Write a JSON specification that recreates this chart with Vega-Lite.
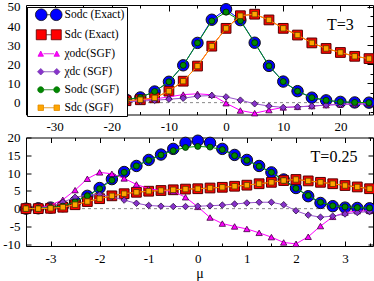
{
  "$schema": "https://vega.github.io/schema/vega-lite/v6.json",
  "padding": {"left": 2, "top": 0, "right": 1, "bottom": 0},
  "autosize": {"type": "pad"},
  "bounds": "flush",
  "spacing": 22.5,
  "resolve": {"scale": {"fill": "independent", "shape": "independent", "stroke": "independent"}, "legend": {"fill": "independent", "shape": "independent", "stroke": "independent"}},
  "config": {
    "font": "Liberation Serif",
    "view": {"stroke": "black", "strokeWidth": 1},
    "axis": {"grid": false, "domain": false, "labelFont": "Liberation Serif", "labelFontSize": 13, "labelColor": "black", "tickColor": "black", "tickWidth": 1, "labelFlush": false, "labelOverlap": false, "titleFont": "Liberation Serif", "titleFontSize": 14, "titleFontWeight": "normal", "titleColor": "black", "titlePadding": 1}
  },
  "datasets": {
    "top": [
      {"s":"Sodc (Exact)","x":-20,"y":0.8},{"s":"Sodc (Exact)","x":-17.5,"y":1.6},{"s":"Sodc (Exact)","x":-15,"y":2.7},{"s":"Sodc (Exact)","x":-12.5,"y":5.8},{"s":"Sodc (Exact)","x":-10,"y":10.9},{"s":"Sodc (Exact)","x":-7.5,"y":19.5},{"s":"Sodc (Exact)","x":-5,"y":31.2},{"s":"Sodc (Exact)","x":-2.5,"y":43.3},{"s":"Sodc (Exact)","x":0,"y":48.8},{"s":"Sodc (Exact)","x":2.5,"y":43.1},{"s":"Sodc (Exact)","x":5,"y":31.3},{"s":"Sodc (Exact)","x":7.5,"y":19.2},{"s":"Sodc (Exact)","x":10,"y":11.0},{"s":"Sodc (Exact)","x":12.5,"y":6.0},{"s":"Sodc (Exact)","x":15,"y":2.6},{"s":"Sodc (Exact)","x":17.5,"y":1.2},{"s":"Sodc (Exact)","x":20,"y":0.4},{"s":"Sodc (Exact)","x":22.5,"y":0.1},{"s":"Sodc (Exact)","x":25,"y":0.0},
      {"s":"Sdc (Exact)","x":-20,"y":0.6},{"s":"Sdc (Exact)","x":-17.5,"y":1.0},{"s":"Sdc (Exact)","x":-15,"y":1.5},{"s":"Sdc (Exact)","x":-12.5,"y":2.5},{"s":"Sdc (Exact)","x":-10,"y":6.0},{"s":"Sdc (Exact)","x":-7.5,"y":11.2},{"s":"Sdc (Exact)","x":-5,"y":19.1},{"s":"Sdc (Exact)","x":-2.5,"y":29.5},{"s":"Sdc (Exact)","x":0,"y":38.8},{"s":"Sdc (Exact)","x":2.5,"y":45.4},{"s":"Sdc (Exact)","x":5,"y":46.2},{"s":"Sdc (Exact)","x":7.5,"y":43.2},{"s":"Sdc (Exact)","x":10,"y":38.8},{"s":"Sdc (Exact)","x":12.5,"y":35.3},{"s":"Sdc (Exact)","x":15,"y":31.2},{"s":"Sdc (Exact)","x":17.5,"y":28.3},{"s":"Sdc (Exact)","x":20,"y":26.2},{"s":"Sdc (Exact)","x":22.5,"y":24.2},{"s":"Sdc (Exact)","x":25,"y":23.0},
      {"s":"χodc(SGF)","x":-20,"y":0.5},{"s":"χodc(SGF)","x":-17.5,"y":0.8},{"s":"χodc(SGF)","x":-15,"y":1.3},{"s":"χodc(SGF)","x":-12.5,"y":1.9},{"s":"χodc(SGF)","x":-10,"y":3.0},{"s":"χodc(SGF)","x":-7.5,"y":4.2},{"s":"χodc(SGF)","x":-5,"y":4.6},{"s":"χodc(SGF)","x":-2.5,"y":4.1},{"s":"χodc(SGF)","x":0,"y":-0.3},{"s":"χodc(SGF)","x":2.5,"y":-4.1},{"s":"χodc(SGF)","x":5,"y":-5.5},{"s":"χodc(SGF)","x":7.5,"y":-3.9},{"s":"χodc(SGF)","x":10,"y":-2.5},{"s":"χodc(SGF)","x":12.5,"y":-2.2},{"s":"χodc(SGF)","x":15,"y":-1.8},{"s":"χodc(SGF)","x":17.5,"y":-1.3},{"s":"χodc(SGF)","x":20,"y":-0.9},{"s":"χodc(SGF)","x":22.5,"y":-0.7},{"s":"χodc(SGF)","x":25,"y":-0.6},
      {"s":"χdc (SGF)","x":-20,"y":0.3},{"s":"χdc (SGF)","x":-17.5,"y":0.5},{"s":"χdc (SGF)","x":-15,"y":0.8},{"s":"χdc (SGF)","x":-12.5,"y":1.2},{"s":"χdc (SGF)","x":-10,"y":1.8},{"s":"χdc (SGF)","x":-7.5,"y":2.3},{"s":"χdc (SGF)","x":-5,"y":3.4},{"s":"χdc (SGF)","x":-2.5,"y":3.7},{"s":"χdc (SGF)","x":0,"y":3.0},{"s":"χdc (SGF)","x":2.5,"y":1.3},{"s":"χdc (SGF)","x":5,"y":-0.6},{"s":"χdc (SGF)","x":7.5,"y":-1.8},{"s":"χdc (SGF)","x":10,"y":-2.5},{"s":"χdc (SGF)","x":12.5,"y":-2.2},{"s":"χdc (SGF)","x":15,"y":-1.8},{"s":"χdc (SGF)","x":17.5,"y":-1.3},{"s":"χdc (SGF)","x":20,"y":-0.9},{"s":"χdc (SGF)","x":22.5,"y":-0.7},{"s":"χdc (SGF)","x":25,"y":-0.6},
      {"s":"Sodc (SGF)","x":-20,"y":0.8},{"s":"Sodc (SGF)","x":-17.5,"y":1.6},{"s":"Sodc (SGF)","x":-15,"y":2.7},{"s":"Sodc (SGF)","x":-12.5,"y":5.8},{"s":"Sodc (SGF)","x":-10,"y":10.9},{"s":"Sodc (SGF)","x":-7.5,"y":19.5},{"s":"Sodc (SGF)","x":-5,"y":31.2},{"s":"Sodc (SGF)","x":-2.5,"y":42.7},{"s":"Sodc (SGF)","x":0,"y":47.3},{"s":"Sodc (SGF)","x":2.5,"y":42.8},{"s":"Sodc (SGF)","x":5,"y":31.3},{"s":"Sodc (SGF)","x":7.5,"y":19.2},{"s":"Sodc (SGF)","x":10,"y":11.0},{"s":"Sodc (SGF)","x":12.5,"y":6.0},{"s":"Sodc (SGF)","x":15,"y":2.6},{"s":"Sodc (SGF)","x":17.5,"y":1.2},{"s":"Sodc (SGF)","x":20,"y":0.4},{"s":"Sodc (SGF)","x":22.5,"y":0.1},{"s":"Sodc (SGF)","x":25,"y":0.0},
      {"s":"Sdc (SGF)","x":-20,"y":0.6},{"s":"Sdc (SGF)","x":-17.5,"y":1.0},{"s":"Sdc (SGF)","x":-15,"y":1.5},{"s":"Sdc (SGF)","x":-12.5,"y":2.5},{"s":"Sdc (SGF)","x":-10,"y":6.0},{"s":"Sdc (SGF)","x":-7.5,"y":11.2},{"s":"Sdc (SGF)","x":-5,"y":19.1},{"s":"Sdc (SGF)","x":-2.5,"y":29.5},{"s":"Sdc (SGF)","x":0,"y":38.8},{"s":"Sdc (SGF)","x":2.5,"y":45.4},{"s":"Sdc (SGF)","x":5,"y":46.2},{"s":"Sdc (SGF)","x":7.5,"y":43.2},{"s":"Sdc (SGF)","x":10,"y":38.8},{"s":"Sdc (SGF)","x":12.5,"y":35.3},{"s":"Sdc (SGF)","x":15,"y":31.2},{"s":"Sdc (SGF)","x":17.5,"y":28.3},{"s":"Sdc (SGF)","x":20,"y":26.2},{"s":"Sdc (SGF)","x":22.5,"y":24.2},{"s":"Sdc (SGF)","x":25,"y":23.0}
    ],
    "bot": [
      {"s":"A","x":-3.5,"y":0},{"s":"A","x":-3.25,"y":0.1},{"s":"A","x":-3,"y":0.3},{"s":"A","x":-2.75,"y":0.7},{"s":"A","x":-2.5,"y":1.9},{"s":"A","x":-2.25,"y":3.6},{"s":"A","x":-2,"y":5.8},{"s":"A","x":-1.75,"y":8.3},{"s":"A","x":-1.5,"y":10.3},{"s":"A","x":-1.25,"y":12.0},{"s":"A","x":-1,"y":13.7},{"s":"A","x":-0.75,"y":15.2},{"s":"A","x":-0.5,"y":16.8},{"s":"A","x":-0.25,"y":18.5},{"s":"A","x":0,"y":19.1},{"s":"A","x":0.25,"y":18.5},{"s":"A","x":0.5,"y":16.8},{"s":"A","x":0.75,"y":15.1},{"s":"A","x":1,"y":13.7},{"s":"A","x":1.25,"y":12.0},{"s":"A","x":1.5,"y":10.2},{"s":"A","x":1.75,"y":8.2},{"s":"A","x":2,"y":5.8},{"s":"A","x":2.25,"y":3.5},{"s":"A","x":2.5,"y":1.6},{"s":"A","x":2.75,"y":0.7},{"s":"A","x":3,"y":0.3},{"s":"A","x":3.25,"y":0.2},{"s":"A","x":3.5,"y":0.1},
      {"s":"B","x":-3.5,"y":0},{"s":"B","x":-3.25,"y":0},{"s":"B","x":-3,"y":0.1},{"s":"B","x":-2.75,"y":0.4},{"s":"B","x":-2.5,"y":1.1},{"s":"B","x":-2.25,"y":2.0},{"s":"B","x":-2,"y":2.8},{"s":"B","x":-1.75,"y":3.6},{"s":"B","x":-1.5,"y":4.2},{"s":"B","x":-1.25,"y":4.6},{"s":"B","x":-1,"y":4.9},{"s":"B","x":-0.75,"y":5.1},{"s":"B","x":-0.5,"y":5.3},{"s":"B","x":-0.25,"y":5.5},{"s":"B","x":0,"y":5.6},{"s":"B","x":0.25,"y":5.8},{"s":"B","x":0.5,"y":6.0},{"s":"B","x":0.75,"y":6.3},{"s":"B","x":1,"y":6.6},{"s":"B","x":1.25,"y":7.0},{"s":"B","x":1.5,"y":7.4},{"s":"B","x":1.75,"y":7.9},{"s":"B","x":2,"y":8.2},{"s":"B","x":2.25,"y":7.8},{"s":"B","x":2.5,"y":7.4},{"s":"B","x":2.75,"y":7.0},{"s":"B","x":3,"y":6.5},{"s":"B","x":3.25,"y":6.1},{"s":"B","x":3.5,"y":5.6},
      {"s":"C","x":-3.5,"y":0},{"s":"C","x":-3.25,"y":0.1},{"s":"C","x":-3,"y":1.0},{"s":"C","x":-2.75,"y":2.5},{"s":"C","x":-2.5,"y":5.2},{"s":"C","x":-2.25,"y":8.4},{"s":"C","x":-2,"y":10.2},{"s":"C","x":-1.75,"y":9.8},{"s":"C","x":-1.5,"y":8.5},{"s":"C","x":-1.25,"y":6.8},{"s":"C","x":-1,"y":5.6},{"s":"C","x":-0.75,"y":5.1},{"s":"C","x":-0.5,"y":4.9},{"s":"C","x":-0.25,"y":3.2},{"s":"C","x":0,"y":0.5},{"s":"C","x":0.25,"y":-2.5},{"s":"C","x":0.5,"y":-4.2},{"s":"C","x":0.75,"y":-5.0},{"s":"C","x":1,"y":-5.7},{"s":"C","x":1.25,"y":-6.8},{"s":"C","x":1.5,"y":-8.0},{"s":"C","x":1.75,"y":-9.5},{"s":"C","x":2,"y":-9.9},{"s":"C","x":2.25,"y":-7.9},{"s":"C","x":2.5,"y":-4.9},{"s":"C","x":2.75,"y":-2.3},{"s":"C","x":3,"y":-1.1},{"s":"C","x":3.25,"y":-0.7},{"s":"C","x":3.5,"y":-0.6},
      {"s":"D","x":-3.5,"y":0},{"s":"D","x":-3.25,"y":0.1},{"s":"D","x":-3,"y":0.6},{"s":"D","x":-2.75,"y":1.8},{"s":"D","x":-2.5,"y":3.2},{"s":"D","x":-2.25,"y":3.8},{"s":"D","x":-2,"y":4.0},{"s":"D","x":-1.75,"y":3.3},{"s":"D","x":-1.5,"y":2.4},{"s":"D","x":-1.25,"y":1.5},{"s":"D","x":-1,"y":0.9},{"s":"D","x":-0.75,"y":0.7},{"s":"D","x":-0.5,"y":0.6},{"s":"D","x":-0.25,"y":0.6},{"s":"D","x":0,"y":0.7},{"s":"D","x":0.25,"y":0.8},{"s":"D","x":0.5,"y":1.0},{"s":"D","x":0.75,"y":1.3},{"s":"D","x":1,"y":1.6},{"s":"D","x":1.25,"y":1.8},{"s":"D","x":1.5,"y":1.8},{"s":"D","x":1.75,"y":1.1},{"s":"D","x":2,"y":-0.6},{"s":"D","x":2.25,"y":-1.8},{"s":"D","x":2.5,"y":-2.4},{"s":"D","x":2.75,"y":-2.1},{"s":"D","x":3,"y":-1.5},{"s":"D","x":3.25,"y":-1.1},{"s":"D","x":3.5,"y":-0.8},
      {"s":"E","x":-3.5,"y":0},{"s":"E","x":-3.25,"y":0.1},{"s":"E","x":-3,"y":0.3},{"s":"E","x":-2.75,"y":0.7},{"s":"E","x":-2.5,"y":1.9},{"s":"E","x":-2.25,"y":3.6},{"s":"E","x":-2,"y":5.6},{"s":"E","x":-1.75,"y":8.0},{"s":"E","x":-1.5,"y":10.2},{"s":"E","x":-1.25,"y":12.0},{"s":"E","x":-1,"y":13.6},{"s":"E","x":-0.75,"y":15.1},{"s":"E","x":-0.5,"y":16.3},{"s":"E","x":-0.25,"y":17.2},{"s":"E","x":0,"y":17.5},{"s":"E","x":0.25,"y":17.3},{"s":"E","x":0.5,"y":16.6},{"s":"E","x":0.75,"y":14.9},{"s":"E","x":1,"y":13.6},{"s":"E","x":1.25,"y":11.9},{"s":"E","x":1.5,"y":10.2},{"s":"E","x":1.75,"y":7.9},{"s":"E","x":2,"y":5.7},{"s":"E","x":2.25,"y":3.7},{"s":"E","x":2.5,"y":1.8},{"s":"E","x":2.75,"y":0.8},{"s":"E","x":3,"y":0.5},{"s":"E","x":3.25,"y":0.3},{"s":"E","x":3.5,"y":0.2},
      {"s":"F","x":-3.5,"y":0},{"s":"F","x":-3.25,"y":0},{"s":"F","x":-3,"y":0.1},{"s":"F","x":-2.75,"y":0.4},{"s":"F","x":-2.5,"y":1.1},{"s":"F","x":-2.25,"y":2.0},{"s":"F","x":-2,"y":2.8},{"s":"F","x":-1.75,"y":3.6},{"s":"F","x":-1.5,"y":4.2},{"s":"F","x":-1.25,"y":4.6},{"s":"F","x":-1,"y":4.9},{"s":"F","x":-0.75,"y":5.1},{"s":"F","x":-0.5,"y":5.3},{"s":"F","x":-0.25,"y":5.5},{"s":"F","x":0,"y":5.6},{"s":"F","x":0.25,"y":5.8},{"s":"F","x":0.5,"y":6.0},{"s":"F","x":0.75,"y":6.3},{"s":"F","x":1,"y":6.6},{"s":"F","x":1.25,"y":7.0},{"s":"F","x":1.5,"y":7.4},{"s":"F","x":1.75,"y":7.9},{"s":"F","x":2,"y":8.2},{"s":"F","x":2.25,"y":7.8},{"s":"F","x":2.5,"y":7.4},{"s":"F","x":2.75,"y":7.0},{"s":"F","x":3,"y":6.5},{"s":"F","x":3.25,"y":6.1},{"s":"F","x":3.5,"y":5.6}
    ]
  },
  "vconcat": [
    {
      "width": 347,
      "height": 109.5,
      "data": {"name": "top"},
      "resolve": {"axis": {"x": "independent", "y": "independent"}},
      "layer": [
        {
          "data": {"values": [{}]},
          "mark": {"type": "rule", "color": "#555555", "strokeDash": [3, 3], "strokeWidth": 0.7},
          "encoding": {
            "y": {"datum": 0, "type": "quantitative", "scale": {"domain": [-6.2, 51], "nice": false, "zero": false}, "axis": {"orient": "left", "values": [0, 10, 20, 30, 40, 50], "ticks": false, "labelPadding": 6, "title": null, "labelExpr": "replace(datum.label, '\u2212', '-')"}}
          }
        },
        {
          "transform": [{"filter": {"field": "s", "equal": "Sodc (Exact)"}}],
          "mark": {"type": "line", "color": "#0000ff", "strokeWidth": 1},
          "encoding": {
            "x": {"field": "x", "type": "quantitative", "scale": {"domain": [-35, 25.7], "nice": false, "zero": false}, "axis": {"orient": "bottom", "values": [-30, -20, -10, 0, 10, 20], "ticks": false, "labelPadding": 6, "title": null, "labelExpr": "replace(datum.label, '\u2212', '-')"}},
            "y": {"field": "y", "type": "quantitative", "scale": {"domain": [-6.2, 51], "nice": false, "zero": false}, "axis": {"orient": "left", "values": [0, 10, 20, 30, 40, 50], "labels": false, "tickSize": -6, "title": null}}
          }
        },
        {
          "transform": [{"filter": {"field": "s", "equal": "Sodc (Exact)"}}],
          "mark": {"type": "point", "shape": "circle", "size": 130, "filled": true, "opacity": 1, "fill": "#0000ff", "stroke": "#111111", "strokeWidth": 1},
          "encoding": {
            "x": {"field": "x", "type": "quantitative", "scale": {"domain": [-35, 25.7], "nice": false, "zero": false}, "axis": {"orient": "bottom", "values": [-30, -20, -10, 0, 10, 20], "labels": false, "tickSize": -6, "title": null}},
            "y": {"field": "y", "type": "quantitative", "scale": {"domain": [-6.2, 51], "nice": false, "zero": false}, "axis": {"orient": "left", "values": [-5, 5, 15, 25, 35, 45], "labels": false, "tickSize": -3, "title": null}}
          }
        },
        {
          "transform": [{"filter": {"field": "s", "equal": "Sdc (Exact)"}}],
          "mark": {"type": "line", "color": "#ff0000", "strokeWidth": 1},
          "encoding": {
            "x": {"field": "x", "type": "quantitative", "scale": {"domain": [-35, 25.7], "nice": false, "zero": false}, "axis": {"orient": "bottom", "values": [-25, -15, -5, 5, 15, 25], "labels": false, "tickSize": -3, "title": null}},
            "y": {"field": "y", "type": "quantitative", "scale": {"domain": [-6.2, 51], "nice": false, "zero": false}, "axis": {"orient": "right", "values": [0, 10, 20, 30, 40, 50], "labels": false, "tickSize": -6, "title": null}}
          }
        },
        {
          "transform": [{"filter": {"field": "s", "equal": "Sdc (Exact)"}}],
          "mark": {"type": "point", "shape": "square", "size": 95, "filled": true, "opacity": 1, "fill": "#ff0000", "stroke": "#550000", "strokeWidth": 1},
          "encoding": {
            "x": {"field": "x", "type": "quantitative", "scale": {"domain": [-35, 25.7], "nice": false, "zero": false}, "axis": {"orient": "top", "values": [-30, -20, -10, 0, 10, 20], "labels": false, "tickSize": -6, "title": null}},
            "y": {"field": "y", "type": "quantitative", "scale": {"domain": [-6.2, 51], "nice": false, "zero": false}, "axis": {"orient": "right", "values": [-5, 5, 15, 25, 35, 45], "labels": false, "tickSize": -3, "title": null}}
          }
        },
        {
          "transform": [{"filter": {"field": "s", "equal": "χodc(SGF)"}}],
          "mark": {"type": "line", "color": "#ff00ff", "strokeWidth": 1},
          "encoding": {
            "x": {"field": "x", "type": "quantitative", "scale": {"domain": [-35, 25.7], "nice": false, "zero": false}, "axis": {"orient": "top", "values": [-25, -15, -5, 5, 15, 25], "labels": false, "tickSize": -3, "title": null}},
            "y": {"field": "y", "type": "quantitative", "scale": {"domain": [-6.2, 51], "nice": false, "zero": false}, "axis": null}
          }
        },
        {
          "transform": [{"filter": {"field": "s", "equal": "χodc(SGF)"}}],
          "mark": {"type": "point", "shape": "triangle-up", "size": 40, "filled": true, "opacity": 1, "fill": "#ff00ff", "stroke": "#400040", "strokeWidth": 0.8},
          "encoding": {
            "x": {"field": "x", "type": "quantitative", "scale": {"domain": [-35, 25.7], "nice": false, "zero": false}, "axis": null},
            "y": {"field": "y", "type": "quantitative", "scale": {"domain": [-6.2, 51], "nice": false, "zero": false}, "axis": null}
          }
        },
        {
          "transform": [{"filter": {"field": "s", "equal": "χdc (SGF)"}}],
          "mark": {"type": "line", "color": "#9955cc", "strokeWidth": 1},
          "encoding": {
            "x": {"field": "x", "type": "quantitative", "scale": {"domain": [-35, 25.7], "nice": false, "zero": false}, "axis": null},
            "y": {"field": "y", "type": "quantitative", "scale": {"domain": [-6.2, 51], "nice": false, "zero": false}, "axis": null}
          }
        },
        {
          "transform": [{"filter": {"field": "s", "equal": "χdc (SGF)"}}],
          "mark": {"type": "point", "shape": "diamond", "size": 42, "filled": true, "opacity": 1, "fill": "#8833cc", "stroke": "#2a1040", "strokeWidth": 0.8},
          "encoding": {
            "x": {"field": "x", "type": "quantitative", "scale": {"domain": [-35, 25.7], "nice": false, "zero": false}, "axis": null},
            "y": {"field": "y", "type": "quantitative", "scale": {"domain": [-6.2, 51], "nice": false, "zero": false}, "axis": null}
          }
        },
        {
          "transform": [{"filter": {"field": "s", "equal": "Sodc (SGF)"}}],
          "mark": {"type": "line", "color": "#009900", "strokeWidth": 1},
          "encoding": {
            "x": {"field": "x", "type": "quantitative", "scale": {"domain": [-35, 25.7], "nice": false, "zero": false}, "axis": null},
            "y": {"field": "y", "type": "quantitative", "scale": {"domain": [-6.2, 51], "nice": false, "zero": false}, "axis": null}
          }
        },
        {
          "transform": [{"filter": {"field": "s", "equal": "Sodc (SGF)"}}],
          "mark": {"type": "point", "shape": "circle", "size": 36, "filled": true, "opacity": 1, "fill": "#008800", "stroke": "#002200", "strokeWidth": 0.8},
          "encoding": {
            "x": {"field": "x", "type": "quantitative", "scale": {"domain": [-35, 25.7], "nice": false, "zero": false}, "axis": null},
            "y": {"field": "y", "type": "quantitative", "scale": {"domain": [-6.2, 51], "nice": false, "zero": false}, "axis": null}
          }
        },
        {
          "transform": [{"filter": {"field": "s", "equal": "Sdc (SGF)"}}],
          "mark": {"type": "line", "color": "#ff9900", "strokeWidth": 1},
          "encoding": {
            "x": {"field": "x", "type": "quantitative", "scale": {"domain": [-35, 25.7], "nice": false, "zero": false}, "axis": null},
            "y": {"field": "y", "type": "quantitative", "scale": {"domain": [-6.2, 51], "nice": false, "zero": false}, "axis": null}
          }
        },
        {
          "transform": [{"filter": {"field": "s", "equal": "Sdc (SGF)"}}],
          "mark": {"type": "point", "shape": "square", "size": 30, "filled": true, "opacity": 1, "fill": "#ffa500", "stroke": "#553300", "strokeWidth": 0.8},
          "encoding": {
            "x": {"field": "x", "type": "quantitative", "scale": {"domain": [-35, 25.7], "nice": false, "zero": false}, "axis": null},
            "y": {"field": "y", "type": "quantitative", "scale": {"domain": [-6.2, 51], "nice": false, "zero": false}, "axis": null}
          }
        },
        {
          "transform": [{"filter": "datum.x > 1000"}],
          "mark": {"type": "point", "filled": true, "size": 100, "opacity": 1, "strokeWidth": 0.8},
          "encoding": {
            "x": {"field": "x", "type": "quantitative", "scale": {"domain": [-35, 25.7], "nice": false, "zero": false}, "axis": null},
            "y": {"field": "y", "type": "quantitative", "scale": {"domain": [-6.2, 51], "nice": false, "zero": false}, "axis": null},
            "fill": {
              "field": "s", "type": "nominal",
              "scale": {"domain": ["Sodc (Exact)", "Sdc (Exact)", "χodc(SGF)", "χdc (SGF)", "Sodc (SGF)", "Sdc (SGF)"], "range": ["#0000ff", "#ff0000", "#ff00ff", "#8833cc", "#008800", "#ffa500"]},
              "legend": {"title": null, "orient": "none", "legendX": 1, "legendY": 2, "direction": "vertical", "fillColor": "white", "strokeColor": "black", "padding": 2, "rowPadding": 5, "labelOffset": 34, "symbolOffset": -10, "symbolSize": 100, "symbolStrokeWidth": 0.8, "symbolOpacity": 1, "labelFont": "Liberation Serif", "labelFontSize": 11.5, "labelColor": "black", "labelLimit": 200}
            },
            "shape": {
              "field": "s", "type": "nominal",
              "scale": {"domain": ["Sodc (Exact)", "Sdc (Exact)", "χodc(SGF)", "χdc (SGF)", "Sodc (SGF)", "Sdc (SGF)"], "range": [
                "M2.13,0A1.17,1.17,0,1,0,4.47,0A1.17,1.17,0,1,0,2.13,0ZM5.13,0A1.17,1.17,0,1,0,7.47,0A1.17,1.17,0,1,0,5.13,0ZM4.47,0L5.13,0",
                "M2.3,-1L4.3,-1L4.3,1L2.3,1ZM5.3,-1L7.3,-1L7.3,1L5.3,1ZM4.3,0L5.3,0",
                "M2.65,0.5L3.75,0.5L3.2,-0.55ZM5.85,0.5L6.95,0.5L6.4,-0.55ZM3.75,0L5.85,0",
                "M3.2,-0.65L3.85,0L3.2,0.65L2.55,0ZM6.4,-0.65L7.05,0L6.4,0.65L5.75,0ZM3.85,0L5.75,0",
                "M2.6,0A0.6,0.6,0,1,0,3.8,0A0.6,0.6,0,1,0,2.6,0ZM5.8,0A0.6,0.6,0,1,0,7,0A0.6,0.6,0,1,0,5.8,0ZM3.8,0L5.8,0",
                "M2.65,-0.55L3.75,-0.55L3.75,0.55L2.65,0.55ZM5.85,-0.55L6.95,-0.55L6.95,0.55L5.85,0.55ZM3.75,0L5.85,0"
              ]},
              "legend": {"title": null, "orient": "none", "legendX": 1, "legendY": 2, "direction": "vertical", "fillColor": "white", "strokeColor": "black", "padding": 2, "rowPadding": 5, "labelOffset": 34, "symbolOffset": -10, "symbolSize": 100, "symbolStrokeWidth": 0.8, "symbolOpacity": 1, "labelFont": "Liberation Serif", "labelFontSize": 11.5, "labelColor": "black", "labelLimit": 200}
            },
            "stroke": {
              "field": "s", "type": "nominal",
              "scale": {"domain": ["Sodc (Exact)", "Sdc (Exact)", "χodc(SGF)", "χdc (SGF)", "Sodc (SGF)", "Sdc (SGF)"], "range": ["#111111", "#550000", "#e000e0", "#7a3fb0", "#007000", "#e08a00"]},
              "legend": {"title": null, "orient": "none", "legendX": 1, "legendY": 2, "direction": "vertical", "fillColor": "white", "strokeColor": "black", "padding": 2, "rowPadding": 5, "labelOffset": 34, "symbolOffset": -10, "symbolSize": 100, "symbolStrokeWidth": 0.8, "symbolOpacity": 1, "labelFont": "Liberation Serif", "labelFontSize": 11.5, "labelColor": "black", "labelLimit": 200}
            }
          }
        },
        {
          "data": {"values": [{}]},
          "mark": {"type": "text", "text": "T=3", "font": "Liberation Serif", "fontSize": 16, "color": "black", "align": "center", "baseline": "middle"},
          "encoding": {
            "x": {"datum": 20, "type": "quantitative", "scale": {"domain": [-35, 25.7], "nice": false, "zero": false}, "axis": null},
            "y": {"datum": 40.5, "type": "quantitative", "scale": {"domain": [-6.2, 51], "nice": false, "zero": false}, "axis": null}
          }
        }
      ]
    },
    {
      "width": 347,
      "height": 108.5,
      "data": {"name": "bot"},
      "resolve": {"axis": {"x": "independent", "y": "independent"}},
      "layer": [
        {
          "data": {"values": [{}]},
          "mark": {"type": "rule", "color": "#555555", "strokeDash": [3, 3], "strokeWidth": 0.7},
          "encoding": {
            "y": {"datum": 0, "type": "quantitative", "scale": {"domain": [-10.5, 20], "nice": false, "zero": false}, "axis": {"orient": "left", "values": [-10, -5, 0, 5, 10, 15, 20], "ticks": false, "labelPadding": 6, "title": null, "labelExpr": "replace(datum.label, '\u2212', '-')"}}
          }
        },
        {
          "transform": [{"filter": {"field": "s", "equal": "A"}}],
          "mark": {"type": "line", "color": "#0000ff", "strokeWidth": 1},
          "encoding": {
            "x": {"field": "x", "type": "quantitative", "scale": {"domain": [-3.5, 3.57], "nice": false, "zero": false}, "axis": {"orient": "bottom", "values": [-3, -2, -1, 0, 1, 2, 3], "ticks": false, "labelPadding": 6, "title": "μ", "labelExpr": "replace(datum.label, '\u2212', '-')"}},
            "y": {"field": "y", "type": "quantitative", "scale": {"domain": [-10.5, 20], "nice": false, "zero": false}, "axis": {"orient": "left", "values": [-10, -5, 0, 5, 10, 15, 20], "labels": false, "tickSize": -5, "title": null}}
          }
        },
        {
          "transform": [{"filter": {"field": "s", "equal": "A"}}],
          "mark": {"type": "point", "shape": "circle", "size": 130, "filled": true, "opacity": 1, "fill": "#0000ff", "stroke": "#111111", "strokeWidth": 1},
          "encoding": {
            "x": {"field": "x", "type": "quantitative", "scale": {"domain": [-3.5, 3.57], "nice": false, "zero": false}, "axis": {"orient": "bottom", "values": [-3, -2, -1, 0, 1, 2, 3], "labels": false, "tickSize": -5, "title": null}},
            "y": {"field": "y", "type": "quantitative", "scale": {"domain": [-10.5, 20], "nice": false, "zero": false}, "axis": {"orient": "right", "values": [-10, -5, 0, 5, 10, 15, 20], "labels": false, "tickSize": -5, "title": null}}
          }
        },
        {
          "transform": [{"filter": {"field": "s", "equal": "B"}}],
          "mark": {"type": "line", "color": "#ff0000", "strokeWidth": 1},
          "encoding": {
            "x": {"field": "x", "type": "quantitative", "scale": {"domain": [-3.5, 3.57], "nice": false, "zero": false}, "axis": {"orient": "bottom", "values": [-3.5, -2.5, -1.5, -0.5, 0.5, 1.5, 2.5, 3.5], "labels": false, "tickSize": -3, "title": null}},
            "y": {"field": "y", "type": "quantitative", "scale": {"domain": [-10.5, 20], "nice": false, "zero": false}, "axis": null}
          }
        },
        {
          "transform": [{"filter": {"field": "s", "equal": "B"}}],
          "mark": {"type": "point", "shape": "square", "size": 95, "filled": true, "opacity": 1, "fill": "#ff0000", "stroke": "#550000", "strokeWidth": 1},
          "encoding": {
            "x": {"field": "x", "type": "quantitative", "scale": {"domain": [-3.5, 3.57], "nice": false, "zero": false}, "axis": {"orient": "top", "values": [-3, -2, -1, 0, 1, 2, 3], "labels": false, "tickSize": -5, "title": null}},
            "y": {"field": "y", "type": "quantitative", "scale": {"domain": [-10.5, 20], "nice": false, "zero": false}, "axis": null}
          }
        },
        {
          "transform": [{"filter": {"field": "s", "equal": "C"}}],
          "mark": {"type": "line", "color": "#ff00ff", "strokeWidth": 1},
          "encoding": {
            "x": {"field": "x", "type": "quantitative", "scale": {"domain": [-3.5, 3.57], "nice": false, "zero": false}, "axis": {"orient": "top", "values": [-3.5, -2.5, -1.5, -0.5, 0.5, 1.5, 2.5, 3.5], "labels": false, "tickSize": -3, "title": null}},
            "y": {"field": "y", "type": "quantitative", "scale": {"domain": [-10.5, 20], "nice": false, "zero": false}, "axis": null}
          }
        },
        {
          "transform": [{"filter": {"field": "s", "equal": "C"}}],
          "mark": {"type": "point", "shape": "triangle-up", "size": 40, "filled": true, "opacity": 1, "fill": "#ff00ff", "stroke": "#400040", "strokeWidth": 0.8},
          "encoding": {
            "x": {"field": "x", "type": "quantitative", "scale": {"domain": [-3.5, 3.57], "nice": false, "zero": false}, "axis": null},
            "y": {"field": "y", "type": "quantitative", "scale": {"domain": [-10.5, 20], "nice": false, "zero": false}, "axis": null}
          }
        },
        {
          "transform": [{"filter": {"field": "s", "equal": "D"}}],
          "mark": {"type": "line", "color": "#9955cc", "strokeWidth": 1},
          "encoding": {
            "x": {"field": "x", "type": "quantitative", "scale": {"domain": [-3.5, 3.57], "nice": false, "zero": false}, "axis": null},
            "y": {"field": "y", "type": "quantitative", "scale": {"domain": [-10.5, 20], "nice": false, "zero": false}, "axis": null}
          }
        },
        {
          "transform": [{"filter": {"field": "s", "equal": "D"}}],
          "mark": {"type": "point", "shape": "diamond", "size": 42, "filled": true, "opacity": 1, "fill": "#8833cc", "stroke": "#2a1040", "strokeWidth": 0.8},
          "encoding": {
            "x": {"field": "x", "type": "quantitative", "scale": {"domain": [-3.5, 3.57], "nice": false, "zero": false}, "axis": null},
            "y": {"field": "y", "type": "quantitative", "scale": {"domain": [-10.5, 20], "nice": false, "zero": false}, "axis": null}
          }
        },
        {
          "transform": [{"filter": {"field": "s", "equal": "E"}}],
          "mark": {"type": "line", "color": "#009900", "strokeWidth": 1},
          "encoding": {
            "x": {"field": "x", "type": "quantitative", "scale": {"domain": [-3.5, 3.57], "nice": false, "zero": false}, "axis": null},
            "y": {"field": "y", "type": "quantitative", "scale": {"domain": [-10.5, 20], "nice": false, "zero": false}, "axis": null}
          }
        },
        {
          "transform": [{"filter": {"field": "s", "equal": "E"}}],
          "mark": {"type": "point", "shape": "circle", "size": 36, "filled": true, "opacity": 1, "fill": "#008800", "stroke": "#002200", "strokeWidth": 0.8},
          "encoding": {
            "x": {"field": "x", "type": "quantitative", "scale": {"domain": [-3.5, 3.57], "nice": false, "zero": false}, "axis": null},
            "y": {"field": "y", "type": "quantitative", "scale": {"domain": [-10.5, 20], "nice": false, "zero": false}, "axis": null}
          }
        },
        {
          "transform": [{"filter": {"field": "s", "equal": "F"}}],
          "mark": {"type": "line", "color": "#ff9900", "strokeWidth": 1},
          "encoding": {
            "x": {"field": "x", "type": "quantitative", "scale": {"domain": [-3.5, 3.57], "nice": false, "zero": false}, "axis": null},
            "y": {"field": "y", "type": "quantitative", "scale": {"domain": [-10.5, 20], "nice": false, "zero": false}, "axis": null}
          }
        },
        {
          "transform": [{"filter": {"field": "s", "equal": "F"}}],
          "mark": {"type": "point", "shape": "square", "size": 30, "filled": true, "opacity": 1, "fill": "#ffa500", "stroke": "#553300", "strokeWidth": 0.8},
          "encoding": {
            "x": {"field": "x", "type": "quantitative", "scale": {"domain": [-3.5, 3.57], "nice": false, "zero": false}, "axis": null},
            "y": {"field": "y", "type": "quantitative", "scale": {"domain": [-10.5, 20], "nice": false, "zero": false}, "axis": null}
          }
        },
        {
          "data": {"values": [{}]},
          "mark": {"type": "text", "text": "T=0.25", "font": "Liberation Serif", "fontSize": 16, "color": "black", "align": "center", "baseline": "middle"},
          "encoding": {
            "x": {"datum": 2.775, "type": "quantitative", "scale": {"domain": [-3.5, 3.57], "nice": false, "zero": false}, "axis": null},
            "y": {"datum": 14.46, "type": "quantitative", "scale": {"domain": [-10.5, 20], "nice": false, "zero": false}, "axis": null}
          }
        }
      ]
    }
  ]
}
